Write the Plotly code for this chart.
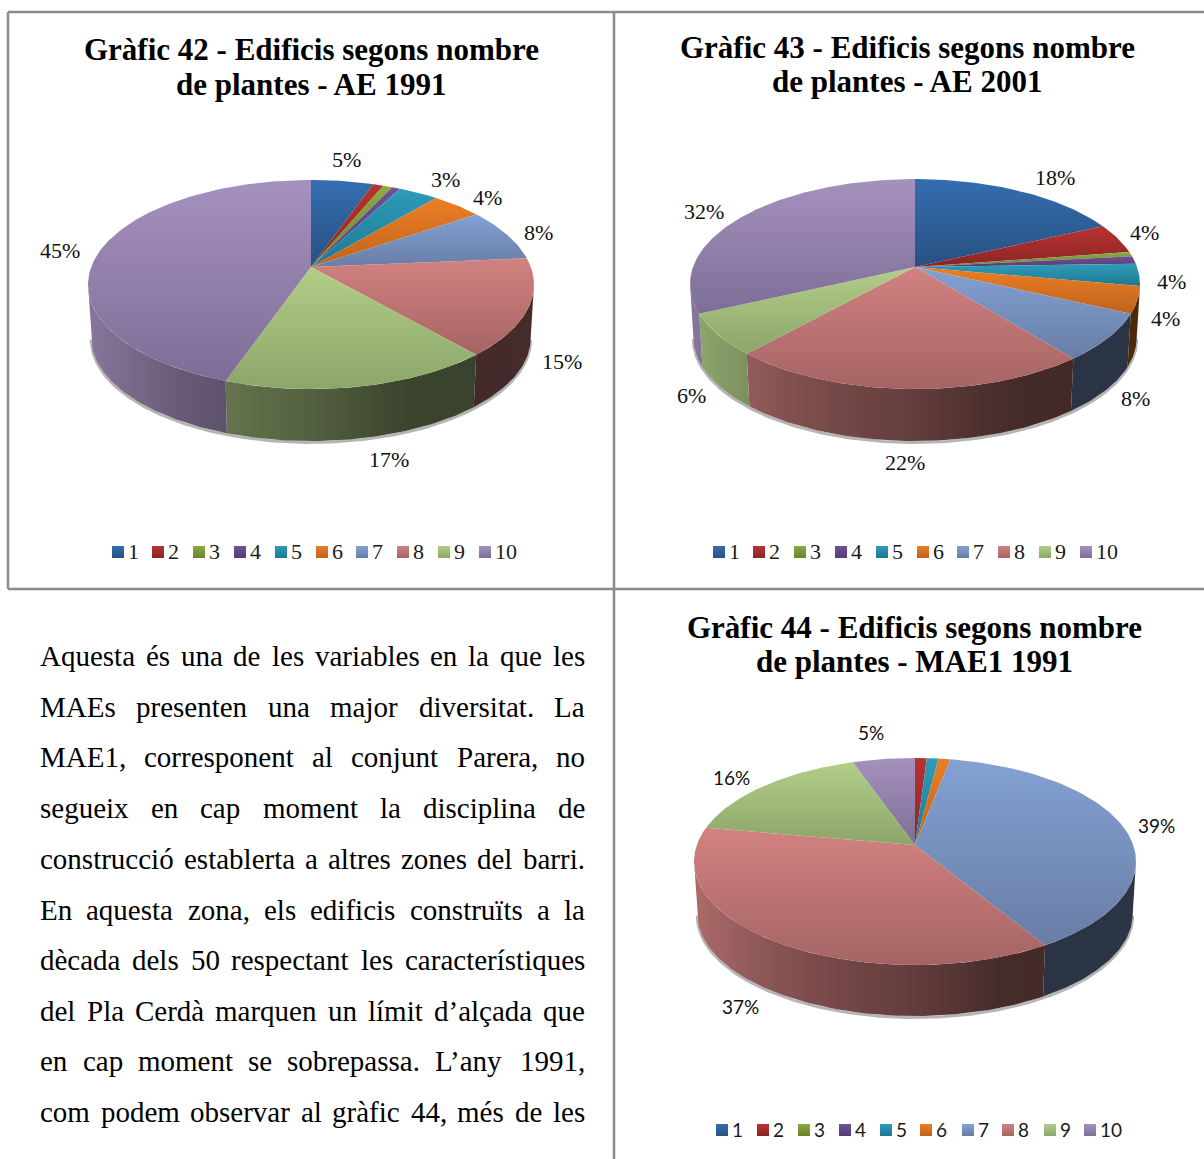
import numpy as np
import plotly.graph_objects as go

# ---------- data ----------
CATEGORIES = ["1", "2", "3", "4", "5", "6", "7", "8", "9", "10"]
VALUES_42 = [5.3, 0.9, 0.8, 0.7, 3.4, 4.3, 8.2, 15.0, 16.7, 44.7]
VALUES_43 = [18.0, 4.6, 0.7, 1.2, 3.4, 4.1, 7.3, 22.3, 6.4, 32.0]
VALUES_44 = [0.0, 1.0, 0.0, 0.0, 1.0, 1.0, 38.4, 36.4, 16.9, 5.3]
LABELS_42 = ["5%", "3%", "4%", "8%", "15%", "17%", "45%"]
LABELS_43 = ["18%", "4%", "4%", "4%", "8%", "22%", "6%", "32%"]
LABELS_44 = ["5%", "16%", "39%", "37%"]
TITLE_42 = ["Gràfic 42 - Edificis segons nombre", "de plantes - AE 1991"]
TITLE_43 = ["Gràfic 43 - Edificis segons nombre", "de plantes - AE 2001"]
TITLE_44 = ["Gràfic 44 - Edificis segons nombre", "de plantes - MAE1 1991"]
BODY_LINES = [
    "Aquesta és una de les variables en la que les",
    "MAEs presenten una major diversitat. La",
    "MAE1, corresponent al conjunt Parera, no",
    "segueix en cap moment la disciplina de",
    "construcció establerta a altres zones del barri.",
    "En aquesta zona, els edificis construïts a la",
    "dècada dels 50 respectant les característiques",
    "del Pla Cerdà marquen un límit d’alçada que",
    "en cap moment se sobrepassa. L’any 1991,",
    "com podem observar al gràfic 44, més de les",
]

# ---------- styles ----------
W_PAGE, H_PAGE = 1204, 1159
TOP_COLORS = [(52, 110, 176), (182, 52, 50), (137, 172, 62), (112, 82, 152), (46, 156, 186),
              (236, 126, 36), (131, 161, 211), (210, 130, 128), (178, 206, 136), (165, 145, 190)]
BOTTOM_COLORS = [(40, 80, 130), (140, 36, 36), (105, 130, 45), (85, 60, 115), (30, 120, 145),
                 (190, 100, 30), (105, 125, 165), (165, 100, 100), (140, 165, 105), (125, 110, 150)]
SERIF = "Liberation Serif"
SANS = "Lato"
BORDER = "#8c8c8c"

# pie projection: centre, half width, far and near radius, wall height
PIE_42 = dict(cx=311, cy=267, rx=223, far=87, near=122, wall=52)
PIE_43 = dict(cx=915, cy=267, rx=225, far=88, near=122, wall=52)
PIE_44 = dict(cx=915, cy=845, rx=221, far=87, near=120, wall=51)

# wall shading as function of horizontal position (-1 left .. 1 right)
SHADE_U = [-1.0, -0.6, -0.3, 0.0, 0.4, 0.7, 1.0]
SHADE_F = [0.82, 0.63, 0.54, 0.47, 0.33, 0.32, 0.33]

fig = go.Figure()


def rgb(c, f=1.0):
    return "rgb(%d,%d,%d)" % tuple(int(round(v * f)) for v in c)


def projector(p):
    k = (p["near"] / p["far"] - 1) / (p["near"] / p["far"] + 1)
    hh = p["far"] * (1 + k)
    ww = p["rx"] * np.sqrt(1 - k * k)

    def top(th):
        s, d = np.sin(th), np.cos(th)
        q = 1 + k * d
        return p["cx"] + ww * s / q, p["cy"] - hh * d / q

    def bottom(th):
        x, y = top(th)
        sc = 0.985
        h = p["wall"] + p["near"] * (1 - sc)
        return p["cx"] + (x - p["cx"]) * sc, p["cy"] + (y - p["cy"]) * sc + h

    vis = np.arccos(-k)
    return top, bottom, vis


def arc(a, b):
    n = max(3, int(abs(b - a) / np.radians(1.0)) + 2)
    return np.linspace(a, b, n)


def draw_pie(values, p):
    top, bottom, vis = projector(p)
    fr = np.array(values, float) / sum(values)
    edges = np.concatenate([[0], np.cumsum(fr)]) * 2 * np.pi
    # soft shadow below the wall
    th = arc(vis, 2 * np.pi - vis)
    bx, by = bottom(th)
    fig.add_trace(go.Scatter(x=bx, y=by + 1.5, mode="lines", line=dict(color="rgba(120,120,120,0.55)", width=3),
                             hoverinfo="skip", showlegend=False))
    # walls
    for i, v in enumerate(values):
        if v <= 0:
            continue
        a = max(edges[i], vis)
        b = min(edges[i + 1], 2 * np.pi - vis)
        if b <= a:
            continue
        th = arc(a, b)
        tx, ty = top(th)
        bx, by = bottom(th[::-1])
        xs = np.concatenate([tx, bx, tx[:1]])
        ys = np.concatenate([ty, by, ty[:1]])
        lo, hi = float(xs.min()), float(xs.max())
        stops = []
        for t in np.linspace(0, 1, 9):
            u = (lo + t * (hi - lo) - p["cx"]) / p["rx"]
            stops.append([float(t), rgb(TOP_COLORS[i], float(np.interp(u, SHADE_U, SHADE_F)))])
        fig.add_trace(go.Scatter(x=xs, y=ys, mode="lines", line=dict(width=0), fill="toself",
                                 fillgradient=dict(type="horizontal", colorscale=stops, start=lo, stop=hi),
                                 hoverinfo="skip", showlegend=False))
    # top faces
    for i, v in enumerate(values):
        if v <= 0:
            continue
        th = arc(edges[i], edges[i + 1])
        tx, ty = top(th)
        xs = np.concatenate([[p["cx"]], tx, [p["cx"]]])
        ys = np.concatenate([[p["cy"]], ty, [p["cy"]]])
        lo, hi = float(ys.min()), float(ys.max())
        fig.add_trace(go.Scatter(x=xs, y=ys, mode="lines", line=dict(width=0), fill="toself",
                                 fillgradient=dict(type="vertical", start=lo, stop=hi,
                                                   colorscale=[[0, rgb(TOP_COLORS[i])], [1, rgb(BOTTOM_COLORS[i])]]),
                                 name=CATEGORIES[i], hoverinfo="skip", showlegend=False))


draw_pie(VALUES_42, PIE_42)
draw_pie(VALUES_43, PIE_43)
draw_pie(VALUES_44, PIE_44)

# ---------- legends ----------
LEG_42_X = [118, 158, 199, 240, 281, 322, 362, 403, 444, 485]
LEG_43_X = [719, 759, 800, 841, 882, 923, 963, 1004, 1045, 1086]
LEG_44_X = [722, 763, 804, 845, 886, 926, 968, 1008, 1050, 1090]


def draw_legend(xs, y, font, size, off):
    fig.add_trace(go.Scatter(x=xs, y=[y] * len(xs), mode="markers",
                             marker=dict(symbol="square", size=12, line=dict(width=0),
                                         color=[rgb(c) for c in TOP_COLORS],
                                         gradient=dict(type="vertical", color=[rgb(c) for c in BOTTOM_COLORS])),
                             hoverinfo="skip", showlegend=False))
    for x, c in zip(xs, CATEGORIES):
        fig.add_annotation(x=x + off, y=y, yshift=1, text=c, showarrow=False, xanchor="left", yanchor="middle",
                           font=dict(family=font, size=size, color="#1a1a1a"))


draw_legend(LEG_42_X, 552, SERIF, 22, 8)
draw_legend(LEG_43_X, 552, SERIF, 22, 8)
draw_legend(LEG_44_X, 1130, SANS, 19, 8)

# ---------- text ----------
def center_text(x, y, text, family, size, bold=False, color="#111111", yshift=0):
    fig.add_annotation(x=x, y=y, yshift=yshift, text="<b>%s</b>" % text if bold else text, showarrow=False,
                       xanchor="center", yanchor="middle", font=dict(family=family, size=size, color=color))


for lines, x, ys in ((TITLE_42, 311, (49, 84)), (TITLE_43, 907, (47, 81)), (TITLE_44, 914, (627, 661))):
    for t, y in zip(lines, ys):
        center_text(x, y, t, SERIF, 31, bold=True, color="#000000")

POS_42 = [(346, 160), (445, 180), (487, 198), (538, 233), (562, 362), (389, 460), (60, 251)]
POS_43 = [(1055, 178), (1144, 233), (1171, 282), (1165, 319), (1135, 399), (905, 463), (691, 396), (704, 212)]
POS_44 = [(871, 733), (731, 778), (1156, 826), (740, 1007)]
for t, (x, y) in zip(LABELS_42, POS_42):
    center_text(x, y, t, SERIF, 22, yshift=1)
for t, (x, y) in zip(LABELS_43, POS_43):
    center_text(x, y, t, SERIF, 22, yshift=1)
for t, (x, y) in zip(LABELS_44, POS_44):
    center_text(x, y, t, SANS, 19, yshift=1)

# justified body text: word widths from Times metrics
TIMES = dict(a=444, b=500, c=444, d=500, e=444, f=333, g=500, h=500, i=278, j=278, k=500, l=278, m=778, n=500,
             o=500, p=500, q=500, r=333, s=389, t=278, u=500, v=500, w=722, x=500, y=500, z=444,
             A=722, C=667, E=611, L=611, M=889, P=556)
TIMES.update({"à": 444, "è": 444, "é": 444, "í": 278, "ï": 278, "ó": 500, "ç": 444, "’": 333, ",": 250, ".": 250})
BODY_SIZE = 29
BODY_L, BODY_R = 40, 585
BODY_Y = [656, 707, 757, 808, 859, 910, 960, 1011, 1061, 1112]


def word_w(w):
    return sum(TIMES.get(ch, 500) for ch in w) * BODY_SIZE / 1000


for line, y in zip(BODY_LINES, BODY_Y):
    words = line.split()
    widths = [word_w(w) for w in words]
    gap = (BODY_R - BODY_L - sum(widths)) / (len(words) - 1)
    x = BODY_L
    for w, wd in zip(words, widths):
        fig.add_annotation(x=x, y=y, text=w, showarrow=False, xanchor="left", yanchor="middle", xshift=-2,
                           font=dict(family=SERIF, size=BODY_SIZE, color="#000000"))
        x += wd + gap

# ---------- frame ----------
for x0, y0, x1, y1 in ((8, 12, W_PAGE, 12), (8, 589, W_PAGE, 589), (8, 12, 8, 589), (614, 12, 614, H_PAGE)):
    fig.add_shape(type="line", x0=x0, y0=y0, x1=x1, y1=y1, line=dict(color=BORDER, width=2.5))

fig.update_layout(
    width=W_PAGE, height=H_PAGE, margin=dict(l=0, r=0, t=0, b=0),
    paper_bgcolor="white", plot_bgcolor="white", showlegend=False,
    xaxis=dict(range=[0, W_PAGE], visible=False, fixedrange=True),
    yaxis=dict(range=[H_PAGE, 0], visible=False, fixedrange=True),
)
fig.write_html("out.html", config=dict(displayModeBar=False),
               post_script="document.body.style.margin='0';document.body.style.overflow='hidden';")
